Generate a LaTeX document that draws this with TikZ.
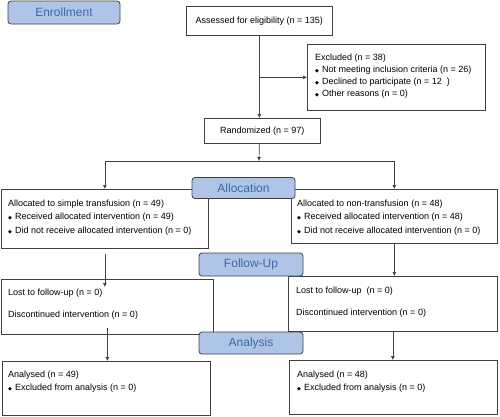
\documentclass[tikz,border=0pt]{standalone}
\usepackage{fontspec}
\setmainfont{Liberation Sans}
\newfontfamily\symbolfont{DejaVu Sans}
\usetikzlibrary{arrows.meta}

\definecolor{stagefill}{RGB}{174,197,232}
\definecolor{stagetext}{RGB}{62,104,168}
\definecolor{boxline}{RGB}{64,64,64}

\newcommand{\blt}{{\symbolfont\fontsize{5}{5}\selectfont ◆}\hspace{3pt}}

\begin{document}
\begin{tikzpicture}[x=1pt,y=-1pt,
		stage/.style={
			draw=boxline,fill=stagefill,text=stagetext,rounded corners=3pt,
			font=\fontsize{12}{14}\selectfont,line width=0.8pt,inner sep=0pt,
		},
		box/.style={
			draw=boxline,line width=0.7pt,inner sep=0pt,anchor=north west,
			font=\fontsize{9}{11}\selectfont,
		},
		txt/.style={
			align=left,inner sep=0pt,anchor=base west,font=\fontsize{9}{13}\selectfont,
		},
		link/.style={
			draw=boxline,line width=0.7pt,-{Latex[length=4pt,width=4pt]},
		},
	]

	\useasboundingbox (0,0) rectangle (500,416);

	% flow boxes
	\node[box,minimum width=146pt,minimum height=29pt] (assess) at (186,6) {Assessed for eligibility (n = 135)};
	\node[box,minimum width=178pt,minimum height=66pt] (excl) at (307,44) {};
	\node[box,minimum width=116pt,minimum height=25pt] (rand) at (204,118) {Randomized (n = 97)};
	\node[box,minimum width=207pt,minimum height=59pt] (allocL) at (1,189) {};
	\node[box,minimum width=206pt,minimum height=54pt] (allocR) at (291,189) {};
	\node[box,minimum width=212pt,minimum height=55pt] (followL) at (1,279) {};
	\node[box,minimum width=209pt,minimum height=55pt] (followR) at (288,276) {};
	\node[box,minimum width=208pt,minimum height=54pt] (anaL) at (2,361) {};
	\node[box,minimum width=208pt,minimum height=54pt] (anaR) at (289,360) {};

	% texts inside the boxes (placed by the baseline of their last line)
	\node[txt,font=\fontsize{9}{12}\selectfont] (exclText) at (315,96) {Excluded (n = 38)\\
		\blt Not meeting inclusion criteria (n = 26)\\
		\blt Declined to participate (n = 12\ \ )\\
		\blt Other reasons (n = 0)};
	\node[txt,font=\fontsize{9}{13.5}\selectfont] (allocLText) at (8,233) {Allocated to simple transfusion (n = 49)\\
		\blt Received allocated intervention (n = 49)\\
		\blt Did not receive allocated intervention (n = 0)};
	\node[txt,font=\fontsize{9}{13.5}\selectfont] (allocRText) at (297,233) {Allocated to non-transfusion (n = 48)\\
		\blt Received allocated intervention (n = 48)\\
		\blt Did not receive allocated intervention (n = 0)};
	\node[txt] (followLText) at (8,317) {Lost to follow-up (n = 0)\\[9pt]
		Discontinued intervention (n = 0)};
	\node[txt] (followRText) at (296,315) {Lost to follow-up\ \ (n = 0)\\[9pt]
		Discontinued intervention (n = 0)};
	\node[txt] (anaLText) at (8,390) {Analysed (n = 49)\\
		\blt Excluded from analysis (n = 0)};
	\node[txt] (anaRText) at (297,390) {Analysed (n = 48)\\
		\blt Excluded from analysis (n = 0)};

	% connectors
	\coordinate (split) at (259,161);
	\draw[link] (assess.south) -- (assess.south |- rand.north);
	\draw[link] (assess.south |- excl.west) -- (excl.west);
	\draw[link] (assess.south |- rand.south) -- (split);
	\draw[link] (split) -| (allocL.north);
	\draw[link] (split) -| (allocR.north);
	\draw[link,shorten <=5pt,shorten >=-8pt] (allocL.south) -- (allocL.south |- followL.north);
	\draw[link] (allocR.south) -- (allocR.south |- followR.north);
	\draw[link,shorten <=-7pt] (followL.south) -- (followL.south |- anaL.north);
	\draw[link] (followR.south) -- (followR.south |- anaR.north);

	% stage labels on top
	\node[stage,minimum width=112pt,minimum height=23pt] (enroll) at (64,12.5) {Enrollment};
	\node[stage,minimum width=103pt,minimum height=21pt] (alloc) at (243.5,188) {Allocation};
	\node[stage,minimum width=104pt,minimum height=23pt] (follow) at (251,264.5) {Follow-Up};
	\node[stage,minimum width=104pt,minimum height=22pt] (analysis) at (251,343) {Analysis};

\end{tikzpicture}
\end{document}
